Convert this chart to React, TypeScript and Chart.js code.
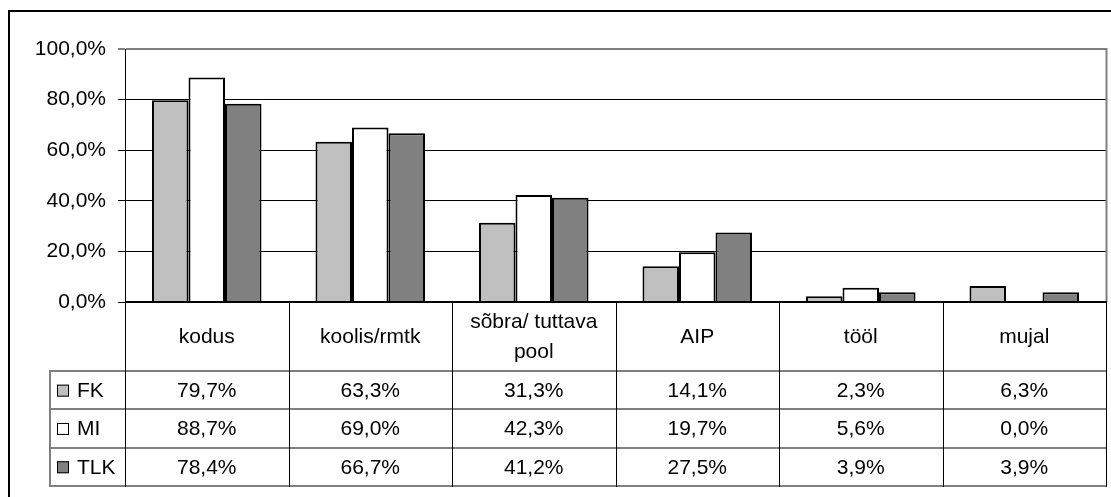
import React, { useEffect, useRef } from 'react';
import { Chart, registerables } from 'chart.js';

Chart.register(...registerables);

const categories = ['kodus', 'koolis/rmtk', 'sõbra/ tuttava pool', 'AIP', 'tööl', 'mujal'];
const categoryLines = [['kodus'], ['koolis/rmtk'], ['sõbra/ tuttava', 'pool'], ['AIP'], ['tööl'], ['mujal']];
const seriesNames = ['FK', 'MI', 'TLK'];
const fkValues = [79.7, 63.3, 31.3, 14.1, 2.3, 6.3];
const miValues = [88.7, 69.0, 42.3, 19.7, 5.6, 0.0];
const tlkValues = [78.4, 66.7, 41.2, 27.5, 3.9, 3.9];
const yTickValues = [0, 20, 40, 60, 80, 100];
const seriesColors = ['#c0c0c0', '#ffffff', '#808080'];

const FONT = '"Liberation Sans", Arial, sans-serif';
const FONT_SIZE = 21;

const fmt = (v: number) => v.toFixed(1).replace('.', ',') + '%';

const tablePlugin = {
  id: 'dataTable',
  afterDraw(chart: any) {
    const { ctx, chartArea } = chart;
    const xs = chart.scales.x;
    const n = categories.length;
    const half = (xs.getPixelForValue(1) - xs.getPixelForValue(0)) / 2;
    const edges: number[] = [];
    for (let i = 0; i < n; i++) edges.push(xs.getPixelForValue(i) - half);
    edges.push(xs.getPixelForValue(n - 1) + half);
    const top = chartArea.bottom;
    const headerBottom = top + 69;
    const rowH = 38.3;
    const tableBottom = headerBottom + rowH * 3;
    const tableLeft = 49;
    const allSeries = [fkValues, miValues, tlkValues];

    ctx.save();
    // plot area right border
    ctx.strokeStyle = '#808080';
    ctx.lineWidth = 2;
    ctx.beginPath();
    ctx.moveTo(chartArea.right + 0.5, chartArea.top - 1);
    ctx.lineTo(chartArea.right + 0.5, chartArea.bottom);
    ctx.stroke();

    // horizontal table lines
    ctx.strokeStyle = '#808080';
    ctx.lineWidth = 2;
    for (let r = 0; r <= 3; r++) {
      const y = Math.round(headerBottom + r * rowH);
      ctx.beginPath();
      ctx.moveTo(tableLeft, y);
      ctx.lineTo(edges[n], y);
      ctx.stroke();
    }
    // left table border
    ctx.beginPath();
    ctx.moveTo(tableLeft + 1, Math.round(headerBottom));
    ctx.lineTo(tableLeft + 1, Math.round(tableBottom));
    ctx.stroke();

    // vertical column lines
    ctx.strokeStyle = '#000';
    ctx.lineWidth = 1;
    for (let i = 0; i <= n; i++) {
      const x = Math.round(edges[i]) + 0.5;
      ctx.beginPath();
      ctx.moveTo(x, top);
      ctx.lineTo(x, Math.round(tableBottom) + 1);
      ctx.stroke();
    }

    // zero axis line on top of bars
    ctx.strokeStyle = '#000';
    ctx.lineWidth = 2;
    ctx.beginPath();
    ctx.moveTo(chartArea.left, Math.round(top));
    ctx.lineTo(edges[n] + 1, Math.round(top));
    ctx.stroke();

    ctx.fillStyle = '#000';
    ctx.font = `${FONT_SIZE}px ${FONT}`;
    ctx.textAlign = 'center';
    ctx.textBaseline = 'middle';
    // header labels
    const headerMid = (top + headerBottom) / 2;
    const lineH = 30;
    for (let i = 0; i < n; i++) {
      const lines = categoryLines[i];
      const cx = xs.getPixelForValue(i);
      const y0 = headerMid - ((lines.length - 1) * lineH) / 2;
      lines.forEach((l, k) => ctx.fillText(l, cx, y0 + k * lineH + 1));
    }
    // data rows
    for (let r = 0; r < 3; r++) {
      const cy = headerBottom + r * rowH + rowH / 2;
      // legend key
      ctx.fillStyle = seriesColors[r];
      ctx.fillRect(57, cy - 5.5, 12, 12);
      ctx.strokeStyle = '#000';
      ctx.lineWidth = 1;
      ctx.strokeRect(57.5, cy - 5, 11, 11);
      ctx.fillStyle = '#000';
      ctx.textAlign = 'left';
      ctx.fillText(seriesNames[r], 77, cy + 1);
      ctx.textAlign = 'center';
      for (let i = 0; i < n; i++) {
        ctx.fillText(fmt(allSeries[r][i]), xs.getPixelForValue(i), cy + 1);
      }
    }
    ctx.restore();
  },
};

export default function App() {
  const ref = useRef<HTMLCanvasElement>(null);
  useEffect(() => {
    if (!ref.current) return;
    const chart = new Chart(ref.current, {
      type: 'bar',
      data: {
        labels: categories,
        datasets: [fkValues, miValues, tlkValues].map((d, i) => ({
          label: seriesNames[i],
          data: d,
          backgroundColor: seriesColors[i],
          borderColor: '#000',
          borderWidth: 2,
          categoryPercentage: 0.67,
          barPercentage: 1.0,
        })),
      },
      options: {
        responsive: false,
        animation: false,
        devicePixelRatio: 1,
        layout: { padding: { top: 49, right: 5, bottom: 195, left: 0 } },
        plugins: { legend: { display: false }, tooltip: { enabled: false }, title: { display: false } },
        scales: {
          x: { display: false, afterFit: (s: any) => { s.height = 0; } },
          y: {
            min: 0,
            max: 100,
            afterFit: (s: any) => { s.width = 125; },
            afterBuildTicks: (s: any) => { s.ticks = yTickValues.map((v) => ({ value: v })); },
            ticks: {
              padding: 12,
              color: '#000',
              font: { family: FONT, size: FONT_SIZE },
              callback: (v: any) => fmt(Number(v)),
            },
            grid: {
              color: (c: any) => (c.tick && c.tick.value === 100 ? '#808080' : '#000'),
              lineWidth: (c: any) => (c.tick && c.tick.value === 100 ? 2 : 1),
              tickLength: 7,
              tickColor: '#000',
              tickWidth: 1,
            },
            border: { display: true, color: '#000', width: 1 },
          },
        },
      },
      plugins: [tablePlugin],
    });
    return () => chart.destroy();
  }, []);
  return (
    <>
      <div
        style={{
          position: 'fixed',
          left: 8,
          top: 10,
          width: 1103,
          height: 487,
          borderLeft: '2px solid #000',
          borderTop: '2px solid #000',
          boxSizing: 'border-box',
        }}
      />
      <canvas
        ref={ref}
        width={1111}
        height={497}
        style={{ position: 'fixed', left: 0, top: 0, width: 1111, height: 497 }}
      />
    </>
  );
}
